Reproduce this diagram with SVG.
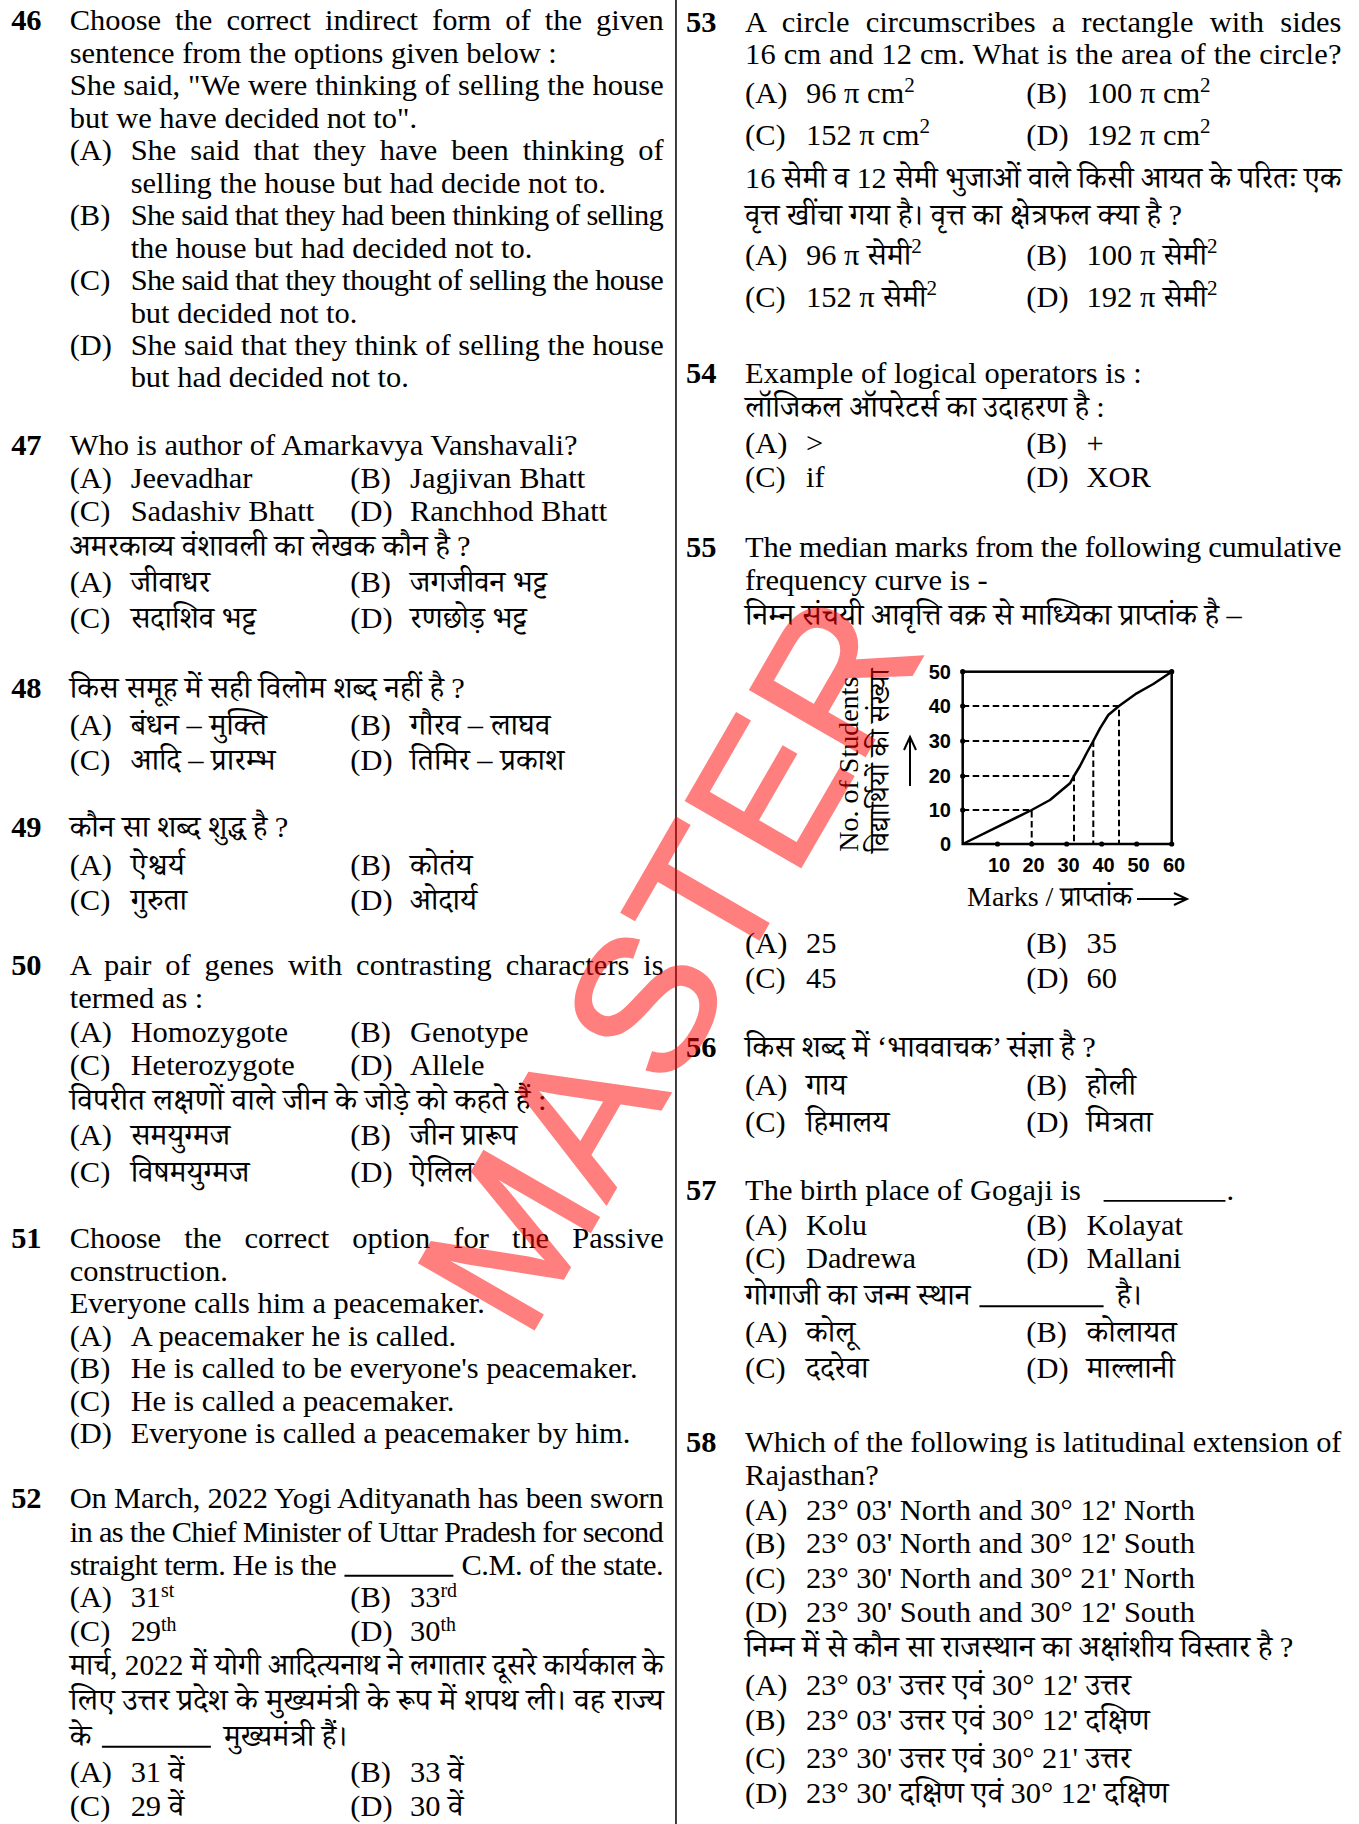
<svg xmlns="http://www.w3.org/2000/svg" width="1359" height="1824" viewBox="0 0 1359 1824">
<style>
text{font-family:"Liberation Serif","Noto Serif Devanagari","Noto Sans Devanagari","Lohit Devanagari",serif;font-size:26px;fill:#000}
.n{font-weight:bold}
.cl{font-family:"Liberation Sans",Arial,sans-serif;font-weight:bold;font-size:20px}
.ax{font-size:28px}
.dash{stroke:#000;stroke-width:2;stroke-dasharray:6.5 3.5;fill:none}
.bl{stroke:#000;stroke-width:1.6}
.wm{font-family:"Liberation Sans",Arial,sans-serif;font-size:164px;fill:#ff0000;stroke:#ff0000;stroke-width:2.2}
</style>
<rect width="1359" height="1824" fill="#fff"/>
<g transform="scale(1.17155)">
<line x1="577" y1="0" x2="577" y2="1557" stroke="#000" stroke-width="1.3"/>
<g id="q46">
<text class="n" x="9.5" y="26">46</text>
<text x="59.5" y="26" word-spacing="5.5" textLength="507" lengthAdjust="spacing">Choose the correct indirect form of the given</text>
<text x="59.5" y="53.7">sentence from the options given below :</text>
<text x="59.5" y="81.4" textLength="507" lengthAdjust="spacing">She said, "We were thinking of selling the house</text>
<text x="59.5" y="109">but we have decided not to".</text>
<text x="59.5" y="136.8">(A)</text><text x="111.5" y="136.8" word-spacing="5.5" textLength="455" lengthAdjust="spacing">She said that they have been thinking of</text>
<text x="111.5" y="164.5">selling the house but had decide not to.</text>
<text x="59.5" y="192.2">(B)</text><text x="111.5" y="192.2" textLength="455" lengthAdjust="spacing">She said that they had been thinking of selling</text>
<text x="111.5" y="220">the house but had decided not to.</text>
<text x="59.5" y="247.6">(C)</text><text x="111.5" y="247.6" textLength="455" lengthAdjust="spacing">She said that they thought of selling the house</text>
<text x="111.5" y="275.3">but decided not to.</text>
<text x="59.5" y="303">(D)</text><text x="111.5" y="303" textLength="455" lengthAdjust="spacing">She said that they think of selling the house</text>
<text x="111.5" y="330.7">but had decided not to.</text>
</g>
<g id="q47">
<text class="n" x="9.5" y="388.4">47</text>
<text x="59.5" y="388.4">Who is author of Amarkavya Vanshavali?</text>
<text x="59.5" y="416.6">(A)</text><text x="111.5" y="416.6">Jeevadhar</text>
<text x="299" y="416.6">(B)</text><text x="350" y="416.6">Jagjivan Bhatt</text>
<text x="59.5" y="444.4">(C)</text><text x="111.5" y="444.4">Sadashiv Bhatt</text>
<text x="299" y="444.4">(D)</text><text x="350" y="444.4">Ranchhod Bhatt</text>
<text x="59.5" y="475">अमरकाव्य वंशावली का लेखक कौन है ?</text>
<text x="59.5" y="505.5">(A)</text><text x="111.5" y="505.5">जीवाधर</text>
<text x="299" y="505.5">(B)</text><text x="350" y="505.5">जगजीवन भट्ट</text>
<text x="59.5" y="536.3">(C)</text><text x="111.5" y="536.3">सदाशिव भट्ट</text>
<text x="299" y="536.3">(D)</text><text x="350" y="536.3">रणछोड़ भट्ट</text>
</g>
<g id="q48">
<text class="n" x="9.5" y="596">48</text>
<text x="59.5" y="596">किस समूह में सही विलोम शब्द नहीं है ?</text>
<text x="59.5" y="627.3">(A)</text><text x="111.5" y="627.3">बंधन – मुक्ति</text>
<text x="299" y="627.3">(B)</text><text x="350" y="627.3">गौरव – लाघव</text>
<text x="59.5" y="657.5">(C)</text><text x="111.5" y="657.5">आदि – प्रारम्भ</text>
<text x="299" y="657.5">(D)</text><text x="350" y="657.5">तिमिर – प्रकाश</text>
</g>
<g id="q49">
<text class="n" x="9.5" y="714.2">49</text>
<text x="59.5" y="714.2">कौन सा शब्द शुद्ध है ?</text>
<text x="59.5" y="746.9">(A)</text><text x="111.5" y="746.9">ऐश्वर्य</text>
<text x="299" y="746.9">(B)</text><text x="350" y="746.9">कोतंय</text>
<text x="59.5" y="776.7">(C)</text><text x="111.5" y="776.7">गुरुता</text>
<text x="299" y="776.7">(D)</text><text x="350" y="776.7">ओदार्य</text>
</g>
<g id="q50">
<text class="n" x="9.5" y="832.2">50</text>
<text x="59.5" y="832.2" word-spacing="5.3" textLength="507" lengthAdjust="spacing">A pair of genes with contrasting characters is</text>
<text x="59.5" y="860.5">termed as :</text>
<text x="59.5" y="889">(A)</text><text x="111.5" y="889">Homozygote</text>
<text x="299" y="889">(B)</text><text x="350" y="889">Genotype</text>
<text x="59.5" y="917.5">(C)</text><text x="111.5" y="917.5">Heterozygote</text>
<text x="299" y="917.5">(D)</text><text x="350" y="917.5">Allele</text>
<text x="59.5" y="947.4" textLength="407" lengthAdjust="spacingAndGlyphs">विपरीत लक्षणों वाले जीन के जोड़े को कहते हैं :</text>
<text x="59.5" y="977.5">(A)</text><text x="111.5" y="977.5">समयुग्मज</text>
<text x="299" y="977.5">(B)</text><text x="350" y="977.5">जीन प्रारूप</text>
<text x="59.5" y="1008.6">(C)</text><text x="111.5" y="1008.6">विषमयुग्मज</text>
<text x="299" y="1008.6">(D)</text><text x="350" y="1008.6">ऐलिल</text>
</g>
<g id="q51">
<text class="n" x="9.5" y="1065.5">51</text>
<text x="59.5" y="1065.5" word-spacing="13.2" textLength="507" lengthAdjust="spacing">Choose the correct option for the Passive</text>
<text x="59.5" y="1093">construction.</text>
<text x="59.5" y="1120.5">Everyone calls him a peacemaker.</text>
<text x="59.5" y="1148.5">(A)</text><text x="111.5" y="1148.5">A peacemaker he is called.</text>
<text x="59.5" y="1176.5">(B)</text><text x="111.5" y="1176.5">He is called to be everyone's peacemaker.</text>
<text x="59.5" y="1204.3">(C)</text><text x="111.5" y="1204.3">He is called a peacemaker.</text>
<text x="59.5" y="1232">(D)</text><text x="111.5" y="1232">Everyone is called a peacemaker by him.</text>
</g>
<g id="q52">
<text class="n" x="9.5" y="1287.4">52</text>
<text x="59.5" y="1287.4" textLength="507" lengthAdjust="spacing">On March, 2022 Yogi Adityanath has been sworn</text>
<text x="59.5" y="1316" textLength="507" lengthAdjust="spacing">in as the Chief Minister of Uttar Pradesh for second</text>
<text x="59.5" y="1344" textLength="228" lengthAdjust="spacing">straight term. He is the</text>
<line class="bl" x1="294" y1="1345" x2="387" y2="1345"/>
<text x="394" y="1344" textLength="172.5" lengthAdjust="spacing">C.M. of the state.</text>
<text x="59.5" y="1372">(A)</text><text x="111.5" y="1372">31<tspan dy="-9" font-size="17">st</tspan></text>
<text x="299" y="1372">(B)</text><text x="350" y="1372">33<tspan dy="-9" font-size="17">rd</tspan></text>
<text x="59.5" y="1401">(C)</text><text x="111.5" y="1401">29<tspan dy="-9" font-size="17">th</tspan></text>
<text x="299" y="1401">(D)</text><text x="350" y="1401">30<tspan dy="-9" font-size="17">th</tspan></text>
<text x="59.5" y="1430" textLength="507" lengthAdjust="spacingAndGlyphs">मार्च, 2022 में योगी आदित्यनाथ ने लगातार दूसरे कार्यकाल के</text>
<text x="59.5" y="1459.3" textLength="507" lengthAdjust="spacingAndGlyphs">लिए उत्तर प्रदेश के मुख्यमंत्री के रूप में शपथ ली। वह राज्य</text>
<text x="59.5" y="1490">के</text>
<line class="bl" x1="87" y1="1491" x2="180" y2="1491"/>
<text x="191" y="1490">मुख्यमंत्री हैं।</text>
<text x="59.5" y="1520.7">(A)</text><text x="111.5" y="1520.7">31 वें</text>
<text x="299" y="1520.7">(B)</text><text x="350" y="1520.7">33 वें</text>
<text x="59.5" y="1550">(C)</text><text x="111.5" y="1550">29 वें</text>
<text x="299" y="1550">(D)</text><text x="350" y="1550">30 वें</text>
</g>
<g id="q53">
<text class="n" x="585.5" y="27">53</text>
<text x="636" y="27" word-spacing="7.3" textLength="509" lengthAdjust="spacing">A circle circumscribes a rectangle with sides</text>
<text x="636" y="54.5" textLength="509" lengthAdjust="spacing">16 cm and 12 cm. What is the area of the circle?</text>
<text x="636" y="88.2">(A)</text><text x="688" y="88.2">96 π  cm<tspan dy="-10" font-size="18">2</tspan></text>
<text x="876" y="88.2">(B)</text><text x="927.5" y="88.2">100 π  cm<tspan dy="-10" font-size="18">2</tspan></text>
<text x="636" y="123.8">(C)</text><text x="688" y="123.8">152 π  cm<tspan dy="-10" font-size="18">2</tspan></text>
<text x="876" y="123.8">(D)</text><text x="927.5" y="123.8">192 π  cm<tspan dy="-10" font-size="18">2</tspan></text>
<text x="636" y="160.7" textLength="509" lengthAdjust="spacingAndGlyphs">16 सेमी व 12 सेमी भुजाओं वाले किसी आयत के परितः एक</text>
<text x="636" y="192">वृत्त खींचा गया है। वृत्त का क्षेत्रफल क्या है ?</text>
<text x="636" y="226.2">(A)</text><text x="688" y="226.2">96 π  सेमी<tspan dy="-10" font-size="18">2</tspan></text>
<text x="876" y="226.2">(B)</text><text x="927.5" y="226.2">100 π  सेमी<tspan dy="-10" font-size="18">2</tspan></text>
<text x="636" y="261.7">(C)</text><text x="688" y="261.7">152 π  सेमी<tspan dy="-10" font-size="18">2</tspan></text>
<text x="876" y="261.7">(D)</text><text x="927.5" y="261.7">192 π  सेमी<tspan dy="-10" font-size="18">2</tspan></text>
</g>
<g id="q54">
<text class="n" x="585.5" y="327.2">54</text>
<text x="636" y="327.2">Example of logical operators is :</text>
<text x="636" y="355.6">लॉजिकल ऑपरेटर्स का उदाहरण है :</text>
<text x="636" y="387">(A)</text><text x="688" y="387">&gt;</text>
<text x="876" y="387">(B)</text><text x="927.5" y="387">+</text>
<text x="636" y="415.4">(C)</text><text x="688" y="415.4">if</text>
<text x="876" y="415.4">(D)</text><text x="927.5" y="415.4">XOR</text>
</g>
<g id="q55">
<text class="n" x="585.5" y="475.2">55</text>
<text x="636" y="475.2" textLength="509" lengthAdjust="spacing">The median marks from the following cumulative</text>
<text x="636" y="503.6">frequency curve is -</text>
<text x="636" y="533.5">निम्न संचयी आवृत्ति वक्र से माध्यिका प्राप्तांक है –</text>
<text x="636" y="813.7">(A)</text><text x="688" y="813.7">25</text>
<text x="876" y="813.7">(B)</text><text x="927.5" y="813.7">35</text>
<text x="636" y="843.6">(C)</text><text x="688" y="843.6">45</text>
<text x="876" y="843.6">(D)</text><text x="927.5" y="843.6">60</text>
</g>
<g id="q56">
<text class="n" x="585.5" y="901.9">56</text>
<text x="636" y="901.9">किस शब्द में ‘भाववाचक’ संज्ञा है ?</text>
<text x="636" y="934.6">(A)</text><text x="688" y="934.6">गाय</text>
<text x="876" y="934.6">(B)</text><text x="927.5" y="934.6">होली</text>
<text x="636" y="965.9">(C)</text><text x="688" y="965.9">हिमालय</text>
<text x="876" y="965.9">(D)</text><text x="927.5" y="965.9">मित्रता</text>
</g>
<g id="q57">
<text class="n" x="585.5" y="1024.2">57</text>
<text x="636" y="1024.2">The birth place of Gogaji is</text>
<line class="bl" x1="942" y1="1025" x2="1046" y2="1025"/>
<text x="1047" y="1024.2">.</text>
<text x="636" y="1054.1">(A)</text><text x="688" y="1054.1">Kolu</text>
<text x="876" y="1054.1">(B)</text><text x="927.5" y="1054.1">Kolayat</text>
<text x="636" y="1082.5">(C)</text><text x="688" y="1082.5">Dadrewa</text>
<text x="876" y="1082.5">(D)</text><text x="927.5" y="1082.5">Mallani</text>
<text x="636" y="1113.9">गोगाजी का जन्म स्थान</text>
<line class="bl" x1="836" y1="1115" x2="942" y2="1115"/>
<text x="953" y="1113.9">है।</text>
<text x="636" y="1145.1">(A)</text><text x="688" y="1145.1">कोलू</text>
<text x="876" y="1145.1">(B)</text><text x="927.5" y="1145.1">कोलायत</text>
<text x="636" y="1176.4">(C)</text><text x="688" y="1176.4">ददरेवा</text>
<text x="876" y="1176.4">(D)</text><text x="927.5" y="1176.4">माल्लानी</text>
</g>
<g id="q58">
<text class="n" x="585.5" y="1239">58</text>
<text x="636" y="1239" textLength="509" lengthAdjust="spacing">Which of the following is latitudinal extension of</text>
<text x="636" y="1267.5">Rajasthan?</text>
<text x="636" y="1297.3">(A)</text><text x="688" y="1297.3">23° 03' North and 30° 12' North</text>
<text x="636" y="1325.8">(B)</text><text x="688" y="1325.8">23° 03' North and 30° 12' South</text>
<text x="636" y="1355.7">(C)</text><text x="688" y="1355.7">23° 30' North and 30° 21' North</text>
<text x="636" y="1384.1">(D)</text><text x="688" y="1384.1">23° 30' South and 30° 12' South</text>
<text x="636" y="1414" textLength="468" lengthAdjust="spacingAndGlyphs">निम्न में से कौन सा राजस्थान का अक्षांशीय विस्तार है ?</text>
<text x="636" y="1446.7">(A)</text><text x="688" y="1446.7">23° 03' उत्तर एवं 30° 12' उत्तर</text>
<text x="636" y="1476.6">(B)</text><text x="688" y="1476.6">23° 03' उत्तर एवं 30° 12' दक्षिण</text>
<text x="636" y="1509.3">(C)</text><text x="688" y="1509.3">23° 30' उत्तर एवं 30° 21' उत्तर</text>
<text x="636" y="1539.2">(D)</text><text x="688" y="1539.2">23° 30' दक्षिण एवं 30° 12' दक्षिण</text>
</g>
</g>
<g id="chart">
<rect x="962.7" y="671.7" width="209" height="172.3" fill="none" stroke="#000" stroke-width="2.5"/>
<g id="connectors">
<path class="dash" d="M962.7,810H1031.7V844M962.7,776H1074V844M962.7,741H1093.3V844M962.7,706H1119V844"/>
<path d="M962.7,844L1031.7,810L1050,800L1070,783.3L1074,776L1080,766L1086.7,753L1093.3,741L1100,728.3L1108.3,715L1119,706L1136.7,693.3L1153.3,684L1171.7,671.7" fill="none" stroke="#000" stroke-width="2.5" stroke-linejoin="round"/>
<line x1="910" y1="786" x2="910" y2="738" stroke="#000" stroke-width="2"/>
<path d="M904,750L910,737L916,750" fill="none" stroke="#000" stroke-width="2"/>
<line x1="1137" y1="899" x2="1186" y2="899" stroke="#000" stroke-width="2"/>
<path d="M1174,893L1187,899L1174,905" fill="none" stroke="#000" stroke-width="2"/>
</g>
<g fill="#000">
<circle cx="962.7" cy="671.7" r="2.6"/><circle cx="962.7" cy="706" r="2.6"/><circle cx="962.7" cy="741" r="2.6"/><circle cx="962.7" cy="776" r="2.6"/><circle cx="962.7" cy="810" r="2.6"/>
<circle cx="997.5" cy="844" r="2.6"/><circle cx="1031.7" cy="844" r="2.6"/><circle cx="1066.7" cy="844" r="2.6"/><circle cx="1101.7" cy="844" r="2.6"/><circle cx="1136.7" cy="844" r="2.6"/><circle cx="1171.7" cy="844" r="2.6"/><circle cx="1171.7" cy="671.7" r="2.6"/>
</g>
<g text-anchor="end">
<text class="cl" x="951" y="679">50</text><text class="cl" x="951" y="713">40</text><text class="cl" x="951" y="748">30</text><text class="cl" x="951" y="783">20</text><text class="cl" x="951" y="817">10</text><text class="cl" x="951" y="851">0</text>
</g>
<g text-anchor="middle">
<text class="cl" x="999" y="872">10</text><text class="cl" x="1033.5" y="872">20</text><text class="cl" x="1068.5" y="872">30</text><text class="cl" x="1103.5" y="872">40</text><text class="cl" x="1138.5" y="872">50</text><text class="cl" x="1174" y="872">60</text>
</g>
<text class="ax" x="858" y="851.7" transform="rotate(-90 858 851.7)">No. of Students</text>
<text class="ax" x="889" y="853" font-size="26" transform="rotate(-90 889 853)">विद्यार्थियों की संख्या</text>
<text class="ax" x="967" y="906">Marks / प्राप्तांक</text>
</g>
<g id="watermark" transform="scale(1.17155)" opacity="0.5">
<text class="wm" x="620" y="850" text-anchor="middle" transform="rotate(-60 620 850)">MASTER</text>
</g>
</svg>
